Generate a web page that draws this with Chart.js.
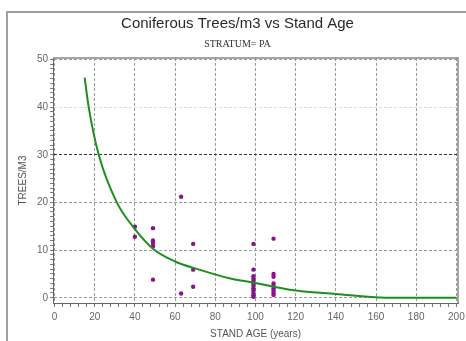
<!DOCTYPE html>
<html>
<head>
<meta charset="utf-8">
<script src="https://cdn.jsdelivr.net/npm/chart.js@4"></script>
<style>
  html, body { margin: 0; padding: 0; background: #fff; overflow: hidden; }
  canvas { display: block; }
</style>
</head>
<body>
<canvas id="treesChart" width="466" height="341"></canvas>
<script>
// fitted curve
const curveAge = [15, 17, 22, 31, 40, 49, 60, 72, 87, 100, 117, 140, 165, 200];
const curveTrees = [46.2, 40, 30, 20, 14.4, 10.3, 7.6, 5.9, 4.1, 3.1, 1.7, 0.8, 0, 0];

// observed plots
const obsAge = [40, 40, 49, 49, 49, 49, 49, 63, 63, 69, 69, 69,
  99, 99, 99, 99, 99, 99, 99, 99, 99, 99, 99, 99,
  109, 109, 109, 109, 109, 109, 109, 109, 109];
const obsTrees = [14.9, 12.8, 14.6, 12.0, 11.5, 10.8, 3.8, 21.2, 0.9, 11.3, 5.9, 2.3,
  11.3, 5.9, 4.5, 4.0, 3.5, 3.0, 2.5, 2.0, 1.5, 1.0, 0.5, 0.2,
  12.4, 5.0, 4.4, 3.0, 2.5, 2.0, 1.5, 1.0, 0.6];

const xTicks = [];
for (let v = 0; v <= 200; v += 4) xTicks.push(v);
const yTicks = [];
for (let v = 0; v <= 50; v += 1) yTicks.push(v);

const gridCol = '#9a9a9a';

// outer page frame + gray box round the plot area
const frames = {
  id: 'frames',
  beforeDraw(chart) {
    const c = chart.ctx;
    c.save();
    c.strokeStyle = '#a0a0a0';
    c.lineWidth = 2;
    c.beginPath();
    c.moveTo(7, chart.height);
    c.lineTo(7, 12);
    c.lineTo(chart.width, 12);
    c.stroke();
    c.restore();
  },
  afterDraw(chart) {
    const a = chart.chartArea, c = chart.ctx;
    c.save();
    c.strokeStyle = '#888';
    c.lineWidth = 1.5;
    c.beginPath();
    c.moveTo(a.left, a.top);
    c.lineTo(a.right, a.top);
    c.lineTo(a.right, a.bottom);
    c.stroke();
    c.restore();
  }
};

const ctx = document.getElementById('treesChart').getContext('2d');
const treesChart = new Chart(ctx, {
  type: 'scatter',
  data: {
    datasets: [{
      label: 'fit',
      data: curveAge.map((x, i) => ({ x: x, y: curveTrees[i] })),
      showLine: true,
      borderColor: '#1e8f1e',
      borderWidth: 2,
      pointRadius: 0,
      cubicInterpolationMode: 'monotone'
    }, {
      label: 'obs',
      data: obsAge.map((x, i) => ({ x: x, y: obsTrees[i] })),
      backgroundColor: '#8a128a',
      borderColor: '#8a128a',
      pointRadius: 2.2,
      borderWidth: 0
    }]
  },
  options: {
    responsive: false,
    animation: false,
    layout: { padding: { top: 15, left: 17, right: 8, bottom: 1 } },
    plugins: {
      legend: { display: false },
      tooltip: { enabled: false },
      title: {
        display: true,
        text: 'Coniferous Trees/m3 vs Stand Age',
        color: '#2a2a2a',
        font: { family: 'Liberation Sans', size: 15, weight: 'normal' },
        padding: { top: 0, bottom: 5 }
      },
      subtitle: {
        display: true,
        text: 'STRATUM= PA',
        color: '#333',
        font: { family: 'Liberation Serif', size: 10 },
        padding: { top: 0, bottom: 8 }
      }
    },
    scales: {
      x: {
        min: -0.7,
        max: 200.8,
        afterBuildTicks: s => { s.ticks = xTicks.map(v => ({ value: v })); },
        afterFit: s => { s.paddingRight = 0; },
        ticks: {
          autoSkip: false,
          maxRotation: 0,
          padding: 4,
          color: '#666',
          font: { family: 'Liberation Sans', size: 10 },
          callback: v => (v % 20 === 0 ? String(v) : '')
        },
        grid: {
          color: c => (c.tick && c.tick.value % 20 === 0 ? gridCol : 'transparent'),
          tickColor: '#777',
          tickLength: 4
        },
        border: { display: true, color: '#666', width: 1, dash: [3, 2] },
        title: {
          display: true,
          text: 'STAND AGE (years)',
          color: '#555',
          font: { family: 'Liberation Sans', size: 10 },
          padding: { top: 1, bottom: 0 }
        }
      },
      y: {
        min: -1.1,
        max: 50.3,
        afterBuildTicks: s => { s.ticks = yTicks.map(v => ({ value: v })); },
        ticks: {
          autoSkip: false,
          padding: 2,
          color: '#666',
          font: { family: 'Liberation Sans', size: 10 },
          callback: v => (v % 10 === 0 ? String(v) : '')
        },
        grid: {
          color: c => {
            if (!c.tick || c.tick.value % 10 !== 0) return 'transparent';
            if (c.tick.value === 30) return '#333';
            if (c.tick.value === 40) return '#dcdcdc';
            return gridCol;
          },
          tickColor: '#777',
          tickLength: 3
        },
        border: { display: true, color: '#666', width: 1, dash: [3, 2] },
        title: {
          display: true,
          text: 'TREES/M3',
          color: '#555',
          font: { family: 'Liberation Sans', size: 10 },
          padding: { top: 0, bottom: 6 }
        }
      }
    }
  },
  plugins: [frames]
});
</script>
</body>
</html>
